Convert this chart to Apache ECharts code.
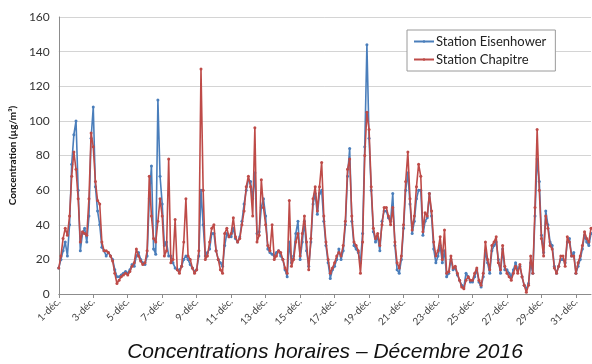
<!DOCTYPE html>
<html>
<head>
<meta charset="utf-8">
<script src="https://cdn.jsdelivr.net/npm/echarts@6/dist/echarts.min.js"></script>
<style>
  html, body { margin: 0; padding: 0; background: #fff; }
  #chart { width: 592px; height: 364px; }
</style>
</head>
<body>
<div id="chart"></div>
<script>
// Hourly concentrations, December 2016, sampled every 3 hours (8 readings per day)
const days = Array.from({ length: 31 }, (_, i) => i + 1);
const hours = [0, 3, 6, 9, 12, 15, 18, 21];
const monthLabel = 'déc.';

const eisenhower = [
  15, 20, 25, 30, 22, 40, 75, 92,
  100, 60, 25, 35, 38, 30, 45, 90,
  108, 62, 48, 40, 27, 25, 22, 24,
  22, 20, 14, 10, 10, 11, 12, 13,
  12, 14, 17, 16, 22, 24, 20, 18,
  17, 22, 55, 74, 26, 23, 112, 68,
  52, 28, 30, 22, 22, 18, 15, 14,
  14, 16, 20, 22, 20, 17, 15, 13,
  14, 22, 60, 40, 22, 24, 26, 35,
  35, 25, 20, 18, 16, 28, 35, 33,
  33, 38, 32, 30, 33, 42, 52, 60,
  66, 65, 55, 70, 35, 36, 50, 55,
  45, 26, 24, 23, 22, 24, 25, 22,
  20, 14, 10, 30, 18, 22, 35, 42,
  20, 30, 42, 25, 16, 30, 52, 58,
  46, 58, 60, 42, 28, 18, 9, 14,
  16, 20, 26, 20, 25, 40, 68, 84,
  42, 28, 26, 24, 18, 35, 85, 144,
  90, 60, 36, 30, 33, 25, 42, 48,
  48, 44, 42, 58, 28, 14, 12, 20,
  38, 60, 70, 52, 35, 42, 55, 60,
  60, 34, 42, 44, 58, 45, 26, 18,
  22, 28, 18, 25, 10, 12, 20, 14,
  15, 11, 8, 5, 4, 12, 10, 7,
  7, 10, 14, 7, 4, 10, 25, 18,
  12, 25, 28, 30, 20, 12, 26, 14,
  14, 12, 10, 14, 18, 14, 16, 10,
  5, 3, 6, 18, 12, 45, 78, 65,
  34, 24, 48, 40, 30, 28, 16, 12,
  16, 20, 20, 18, 30, 32, 22, 24,
  12, 16, 20, 26, 34, 30, 28, 35
];

const chapitre = [
  15, 22, 32, 38, 34, 45, 68, 82,
  72, 55, 30, 36, 35, 34, 55, 93,
  85, 65, 54, 52, 30, 25, 25, 24,
  22, 19, 12, 6, 8, 10, 11, 12,
  11, 13, 16, 18, 26, 22, 19, 17,
  18, 25, 68, 45, 32, 30, 42, 55,
  45, 22, 25, 78, 18, 20, 43, 14,
  12, 16, 30, 55, 22, 20, 15, 12,
  14, 25, 130, 60, 20, 22, 30, 38,
  40, 25, 20, 14, 12, 35, 38, 33,
  35, 44, 33, 30, 32, 40, 48, 62,
  68, 62, 45, 96, 30, 34, 66, 50,
  40, 28, 25, 40, 20, 22, 25, 24,
  20, 15, 12, 54, 16, 20, 30, 35,
  22, 35, 45, 30, 14, 32, 55, 62,
  48, 62, 76, 45, 30, 20, 12, 15,
  18, 22, 24, 22, 28, 42, 72, 78,
  45, 30, 28, 25, 12, 30, 80, 105,
  95, 62, 38, 32, 35, 28, 40, 50,
  50, 45, 40, 50, 30, 18, 15, 22,
  40, 65, 82, 55, 37, 45, 62, 75,
  68, 36, 47, 45, 58, 48, 30, 22,
  25, 33, 20, 37, 12, 13, 22, 15,
  16, 12, 8, 4, 3, 8, 10, 8,
  8, 12, 15, 8, 5, 12, 30, 20,
  14, 28, 30, 33, 18, 14, 28, 16,
  12, 10, 8, 12, 16, 12, 17, 10,
  5, 1, 5, 22, 12, 50, 95, 60,
  32, 22, 45, 38, 28, 26, 15, 12,
  16, 22, 22, 16, 33, 30, 22, 22,
  12, 18, 22, 28, 36, 32, 30, 38
];

const yTicks = [0, 20, 40, 60, 80, 100, 120, 140, 160];
const seriesNames = ['Station Eisenhower', 'Station Chapitre'];
const titleText = 'Concentrations horaires – Décembre 2016';
const yName = 'Concentration (µg/m³)';

// one category per reading: "d-déc. hh"
const categories = [];
days.forEach(d => hours.forEach(h => categories.push(d + '-' + monthLabel + ' ' + h)));
const perTwoDays = hours.length * 2;

const chart = echarts.init(document.getElementById('chart'), null, { renderer: 'canvas' });
chart.setOption({
  animation: false,
  backgroundColor: '#ffffff',
  textStyle: { fontFamily: 'Lato' },
  grid: { left: 58, right: 1, top: 17, bottom: 70, containLabel: false },
  legend: {
    orient: 'vertical',
    left: 407,
    top: 30,
    padding: [5, 9, 5, 6],
    itemGap: 5,
    itemWidth: 20,
    itemHeight: 3,
    backgroundColor: '#ffffff',
    borderColor: '#9a9a9a',
    borderWidth: 1,
    borderRadius: 0,
    textStyle: { fontFamily: 'Lato', fontSize: 13, color: '#222', padding: [0, 0, 0, -3] },
    data: seriesNames
  },
  xAxis: {
    type: 'category',
    data: categories,
    boundaryGap: false,
    axisLine: { lineStyle: { color: '#8c8c8c', width: 1 } },
    axisTick: {
      show: true,
      length: 4,
      interval: (i) => i % perTwoDays === 0,
      lineStyle: { color: '#8c8c8c' }
    },
    axisLabel: {
      interval: (i) => i % perTwoDays === 0,
      formatter: (v) => v.split(' ')[0],
      rotate: 45,
      fontFamily: 'Lato',
      fontSize: 10,
      color: '#404040',
      margin: 6
    },
    splitLine: { show: false }
  },
  yAxis: {
    type: 'value',
    min: yTicks[0],
    max: yTicks[yTicks.length - 1],
    interval: yTicks[1] - yTicks[0],
    name: yName,
    nameLocation: 'middle',
    nameGap: 35,
    nameTextStyle: { fontFamily: 'Lato', fontSize: 10, fontWeight: 'bold', color: '#111' },
    axisLine: { show: true, lineStyle: { color: '#8c8c8c' } },
    axisTick: { show: false },
    axisLabel: { fontFamily: 'Lato', fontSize: 12, color: '#333', margin: 9 },
    splitLine: { lineStyle: { color: '#d4d4d4', width: 1 } }
  },
  series: [
    {
      name: seriesNames[0],
      type: 'line',
      data: eisenhower,
      symbol: 'circle',
      symbolSize: 3,
      showAllSymbol: true,
      color: '#4a7ebb',
      lineStyle: { width: 1.6, color: '#4a7ebb' },
      itemStyle: { color: '#4a7ebb' },
      z: 2
    },
    {
      name: seriesNames[1],
      type: 'line',
      data: chapitre,
      symbol: 'circle',
      symbolSize: 3,
      showAllSymbol: true,
      color: '#be4b48',
      lineStyle: { width: 1.6, color: '#be4b48' },
      itemStyle: { color: '#be4b48' },
      z: 3
    }
  ],
  graphic: [
    {
      type: 'text',
      x: 325,
      y: 352,
      style: {
        text: titleText,
        textAlign: 'center',
        textVerticalAlign: 'middle',
        fontFamily: 'Liberation Sans',
        fontStyle: 'italic',
        fontSize: 21,
        fill: '#111'
      }
    }
  ]
});
</script>
</body>
</html>
